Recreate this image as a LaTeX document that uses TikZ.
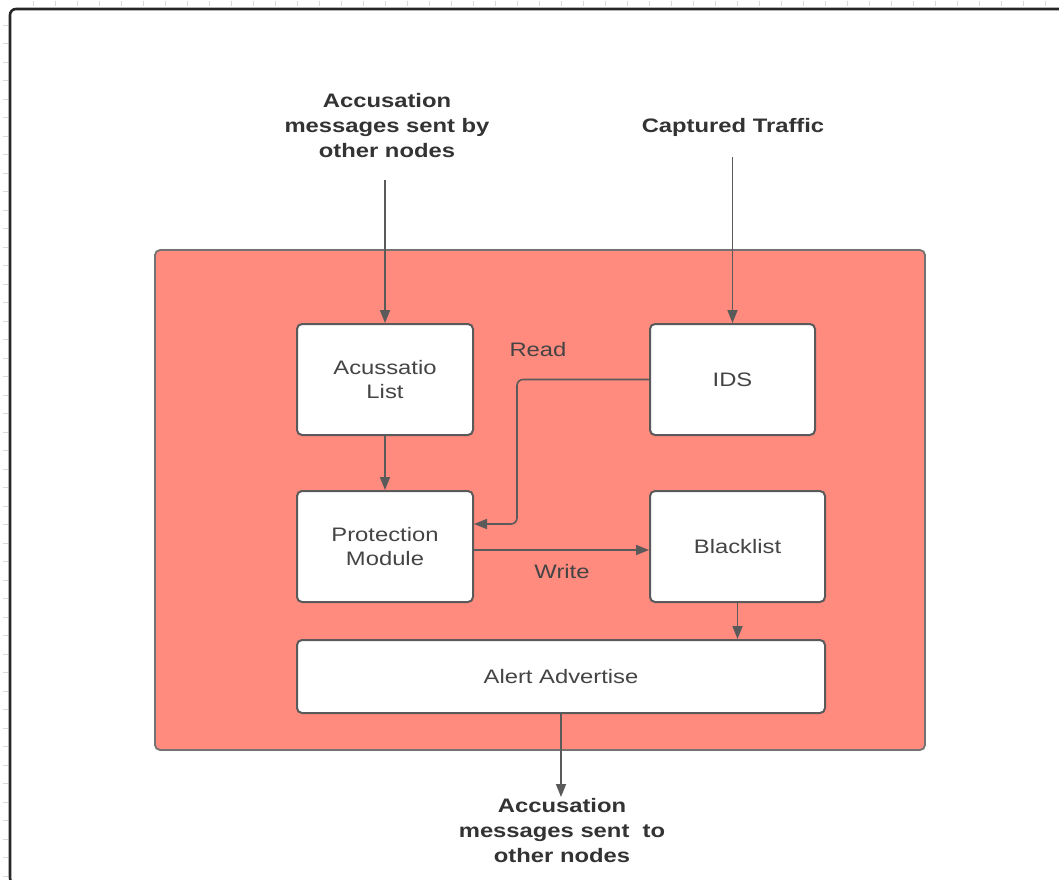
\documentclass[tikz,border=0pt]{standalone}
\usepackage{fontspec}
\setmainfont{Liberation Sans}[FakeStretch=1.22]
\usetikzlibrary{arrows.meta}
\definecolor{salmon}{HTML}{FF8A7E}
\definecolor{edgegray}{HTML}{5A5A5A}
\definecolor{txt}{HTML}{444444}
\definecolor{headtxt}{HTML}{333333}
\begin{document}
\begin{tikzpicture}[x=1pt,y=-1pt,
  container/.style={draw=edgegray!85, line width=1.8pt, fill=salmon, rounded corners=5pt},
  box/.style={draw=edgegray, line width=2pt, fill=white, rounded corners=5pt,
    align=center, text=txt, font=\fontsize{19.5}{24}\selectfont},
  head/.style={align=center, text=headtxt, font=\fontsize{19.5}{25}\selectfont\bfseries},
  tag/.style={text=txt, font=\fontsize{19.5}{24}\selectfont},
  conn/.style={draw=edgegray, line width=1.6pt, -{Triangle[length=13pt,width=10pt]}},
  tick/.style={draw=gray!30, line width=0.6pt}]
\clip (0,0) rectangle (1059,879);
\fill[white] (0,0) rectangle (1059,879);

% ruler ticks and page frame
\foreach \i in {0,...,46} \draw[tick] (33+22*\i,1) -- (33+22*\i,6);
\foreach \j in {0,...,46} \draw[tick] (3,25+18.5*\j) -- (8,25+18.5*\j);
\draw[black!85, line width=2.6pt, rounded corners=6pt] (1080,9) -- (10,9) -- (10,884) -- (1080,884);

% system container
\node[container, minimum width=770pt, minimum height=500pt] (sys) at (540,500) {};

% modules
\node[box, minimum width=176pt, minimum height=111pt] (acc) at (385,379.5) {Acussatio\\List};
\node[box, minimum width=165pt, minimum height=111pt] (ids) at (732.5,379.5) {IDS};
\node[box, minimum width=176pt, minimum height=111pt] (pm) at (385,546.5) {Protection\\Module};
\node[box, minimum width=175pt, minimum height=111pt] (bl) at (737.5,546.5) {Blacklist};
\node[box, minimum width=528pt, minimum height=73pt] (alert) at (561,676.5) {Alert Advertise};

% external labels
\node[head] (inlab) at (387,125.5) {Accusation\\messages sent by\\other nodes};
\node[head] (traffic) at (733,127) {Captured Traffic};
\node[head] (outlab) at (562,831) {Accusation\\messages sent \ to\\other nodes};
\coordinate (inEnd) at (385,180);
\coordinate (trEnd) at (732.5,157);
\coordinate (outEnd) at (561,797);

% connector labels
\node[tag] (readlab) at (538,350) {Read};
\node[tag] (writelab) at (562,572) {Write};

% connectors
\draw[conn] (inEnd) -- (acc.north);
\draw[conn] (trEnd) -- (ids.north);
\draw[conn] (acc.south) -- (pm.north);
\draw[conn, rounded corners=6pt] (ids.west) -- (517,379.5) -- (517,524) -- ([yshift=22.5pt]pm.east);
\draw[conn] ([yshift=-3.5pt]pm.east) -- ([yshift=-3.5pt]bl.west);
\draw[conn] (bl.south) -- (bl.south |- alert.north);
\draw[conn] (alert.south) -- (outEnd);
\end{tikzpicture}
\end{document}
